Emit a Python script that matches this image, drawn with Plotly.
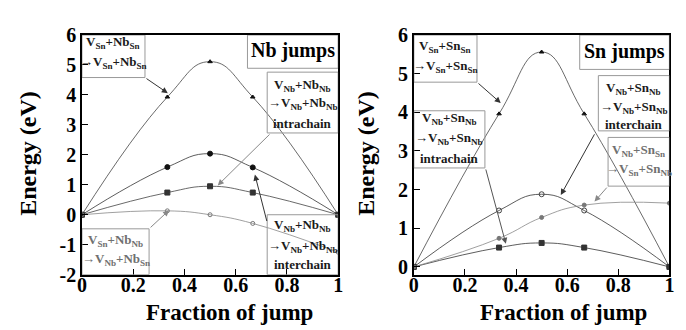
import plotly.graph_objects as go

# ---- data ----
frac = [0, 1/3, 0.5, 2/3, 1]
# Nb jumps (left panel)
nb_vsn_nbsn = [0, 3.93, 5.11, 3.93, 0]
nb_inter = [0, 1.59, 2.04, 1.58, 0]
nb_intra = [0, 0.74, 0.95, 0.74, 0]
nb_mixed = [0, 0.13, 0.0, -0.29, -1.25]
# Sn jumps (right panel)
sn_vsn_snsn = [0, 3.96, 5.56, 3.96, 0]
sn_inter = [0, 1.46, 1.88, 1.46, 0]
sn_intra = [0, 0.50, 0.62, 0.50, 0]
sn_mixed = [0, 0.74, 1.28, 1.60, 1.65]

x_ticks = [0, 0.2, 0.4, 0.6, 0.8, 1]
x_ticklabels = ["0", "0.2", "0.4", "0.6", "0.8", "1"]
y_ticks_left = [-2, -1, 0, 1, 2, 3, 4, 5, 6]
y_ticks_right = [0, 1, 2, 3, 4, 5, 6]

FONT = "Liberation Serif, Times New Roman, serif"
DARK = "#1a1a1a"
GREY = "#707070"

def b(s):
    return "<b>" + s + "</b>"

fig = go.Figure()

def curve(x, y, xa, ya, symbol, lcolor, mcolor, size, open_=False):
    fig.add_trace(go.Scatter(
        x=x, y=y, xaxis=xa, yaxis=ya, mode="lines+markers",
        line=dict(shape="spline", smoothing=1.3, color=lcolor, width=0.8),
        marker=dict(symbol=symbol + ("-open" if open_ else ""), size=size,
                    color=mcolor, line=dict(color=mcolor, width=1)),
        showlegend=False, hoverinfo="skip"))

curve(frac, nb_vsn_nbsn, "x", "y", "triangle-up", "#444444", "#111111", 4)
curve(frac, nb_inter, "x", "y", "circle", "#333333", "#111111", 5)
curve(frac, nb_intra, "x", "y", "square", "#444444", "#333333", 5)
curve(frac, nb_mixed, "x", "y", "circle", "#888888", "#777777", 4, open_=True)

curve(frac, sn_vsn_snsn, "x2", "y2", "triangle-up", "#444444", "#111111", 4)
curve(frac, sn_inter, "x2", "y2", "circle", "#333333", "#444444", 5, open_=True)
curve(frac, sn_intra, "x2", "y2", "square", "#333333", "#333333", 5)
curve(frac, sn_mixed, "x2", "y2", "circle", "#888888", "#777777", 4)

axis_common = dict(showline=True, mirror=True, linecolor="black", linewidth=1.5,
                   ticks="inside", ticklen=6, tickcolor="black", showgrid=False,
                   zeroline=False,
                   tickfont=dict(family=FONT, size=20, color="black"))

YDOM = [0.17, 0.948]

fig.update_layout(
    width=686, height=330, margin=dict(l=0, r=0, t=0, b=0),
    paper_bgcolor="white", plot_bgcolor="white",
    xaxis=dict(domain=[0.102, 0.481], range=[0, 1], tickvals=x_ticks,
               ticktext=[b(t) for t in x_ticklabels], anchor="y",
               ticklabelstandoff=-8, **axis_common),
    yaxis=dict(domain=YDOM, range=[-2, 6], tickvals=y_ticks_left,
               ticktext=[b(str(v)) for v in y_ticks_left], anchor="x", **axis_common),
    xaxis2=dict(domain=[0.593, 0.971], range=[0, 1], tickvals=x_ticks,
                ticktext=[b(t) for t in x_ticklabels], anchor="y2",
                ticklabelstandoff=-8, **axis_common),
    yaxis2=dict(domain=YDOM, range=[-0.2, 6], tickvals=y_ticks_right,
                ticktext=[b(str(v)) for v in y_ticks_right], anchor="x2", **axis_common),
)

# boxes: (xref, yref, x0, x1, y0, y1)
boxes = [
    ("x", "y", 0.0, 0.246, 4.58, 6.0),
    ("x", "y", 0.646, 1.0, 4.89, 6.0),
    ("x", "y", 0.723, 1.0, 2.73, 4.76),
    ("x", "y", 0.0, 0.262, -2.0, -0.47),
    ("x", "y", 0.723, 1.0, -2.0, 0.0),
    ("x2", "y2", 0.0, 0.247, 4.78, 6.0),
    ("x2", "y2", 0.649, 1.0, 5.11, 6.0),
    ("x2", "y2", 0.0, 0.278, 2.56, 4.04),
    ("x2", "y2", 0.722, 1.0, 3.52, 4.95),
    ("x2", "y2", 0.76, 1.0, 2.09, 3.35),
]
for xr, yr, x0, x1, y0, y1 in boxes:
    fig.add_shape(type="rect", xref=xr, yref=yr, x0=x0, x1=x1, y0=y0, y1=y1,
                  line=dict(color="#999999", width=1), fillcolor="rgba(0,0,0,0)")

# texts: (xref, yref, x, y, text, size, color)
texts = [
    ("x", "y", 0.123, 5.74, "V<sub>Sn</sub>+Nb<sub>Sn</sub>", 13, DARK),
    ("x", "y", 0.123, 5.07, "→V<sub>Sn</sub>+Nb<sub>Sn</sub>", 13, DARK),
    ("x", "y", 0.823, 5.47, "Nb jumps", 20, "black"),
    ("x", "y", 0.861, 4.31, "V<sub>Nb</sub>+Nb<sub>Nb</sub>", 13, DARK),
    ("x", "y", 0.861, 3.71, "→V<sub>Nb</sub>+Nb<sub>Nb</sub>", 13, DARK),
    ("x", "y", 0.861, 3.05, "intrachain", 13, DARK),
    ("x", "y", 0.131, -0.85, "V<sub>Sn</sub>+Nb<sub>Nb</sub>", 13, GREY),
    ("x", "y", 0.131, -1.50, "→V<sub>Nb</sub>+Nb<sub>Sn</sub>", 13, GREY),
    ("x", "y", 0.861, -0.35, "V<sub>Nb</sub>+Nb<sub>Nb</sub>", 13, DARK),
    ("x", "y", 0.861, -1.05, "→V<sub>Nb</sub>+Nb<sub>Nb</sub>", 13, DARK),
    ("x", "y", 0.861, -1.65, "interchain", 13, DARK),
    ("x2", "y2", 0.123, 5.70, "V<sub>Sn</sub>+Sn<sub>Sn</sub>", 13, DARK),
    ("x2", "y2", 0.123, 5.18, "→V<sub>Sn</sub>+Sn<sub>Sn</sub>", 13, DARK),
    ("x2", "y2", 0.824, 5.57, "Sn jumps", 20, "black"),
    ("x2", "y2", 0.139, 3.85, "V<sub>Nb</sub>+Sn<sub>Nb</sub>", 13, DARK),
    ("x2", "y2", 0.139, 3.33, "→V<sub>Nb</sub>+Sn<sub>Nb</sub>", 13, DARK),
    ("x2", "y2", 0.139, 2.80, "intrachain", 13, DARK),
    ("x2", "y2", 0.861, 4.62, "V<sub>Nb</sub>+Sn<sub>Nb</sub>", 13, DARK),
    ("x2", "y2", 0.861, 4.12, "→V<sub>Nb</sub>+Sn<sub>Nb</sub>", 13, DARK),
    ("x2", "y2", 0.861, 3.68, "interchain", 13, DARK),
    ("x2", "y2", 0.880, 3.00, "V<sub>Nb</sub>+Sn<sub>Sn</sub>", 13, GREY),
    ("x2", "y2", 0.880, 2.52, "→V<sub>Sn</sub>+Sn<sub>Nb</sub>", 13, GREY),
]
for xr, yr, x, y, t, s, c in texts:
    fig.add_annotation(xref=xr, yref=yr, x=x, y=y, text=b(t), showarrow=False,
                       xanchor="center", yanchor="middle",
                       font=dict(family=FONT, size=s, color=c))

# arrows: (xref, yref, head_x, head_y, tail_x, tail_y, color)
arrows = [
    ("x", "y", 0.335, 4.06, 0.246, 4.58, "#333333"),
    ("x", "y", 0.53, 0.98, 0.738, 2.73, "#888888"),
    ("x", "y", 0.34, 0.15, 0.262, -0.47, "#888888"),
    ("x", "y", 0.675, 1.34, 0.723, -0.26, "#333333"),
    ("x2", "y2", 0.34, 4.24, 0.247, 4.78, "#333333"),
    ("x2", "y2", 0.36, 0.60, 0.28, 2.56, "#555555"),
    ("x2", "y2", 0.575, 1.86, 0.71, 3.47, "#333333"),
    ("x2", "y2", 0.707, 1.69, 0.76, 2.09, "#888888"),
]
for xr, yr, hx, hy, tx, ty, c in arrows:
    fig.add_annotation(xref=xr, yref=yr, x=hx, y=hy, ax=tx, ay=ty,
                       axref=xr, ayref=yr, text="", showarrow=True,
                       arrowhead=2, arrowsize=1.2, arrowwidth=1, arrowcolor=c)

# axis titles
for xpos in [0.022, 0.522]:
    fig.add_annotation(xref="paper", yref="paper", x=xpos, y=0.565,
                       xanchor="center", yanchor="middle",
                       text=b("Energy (eV)"), showarrow=False, textangle=-90,
                       font=dict(family=FONT, size=24, color="black"))
for xpos in [0.32, 0.815]:
    fig.add_annotation(xref="paper", yref="paper", x=xpos, y=0.0,
                       xanchor="center", yanchor="bottom",
                       text=b("Fraction of jump"), showarrow=False,
                       font=dict(family=FONT, size=23, color="black"))

fig.write_html("out.html")
